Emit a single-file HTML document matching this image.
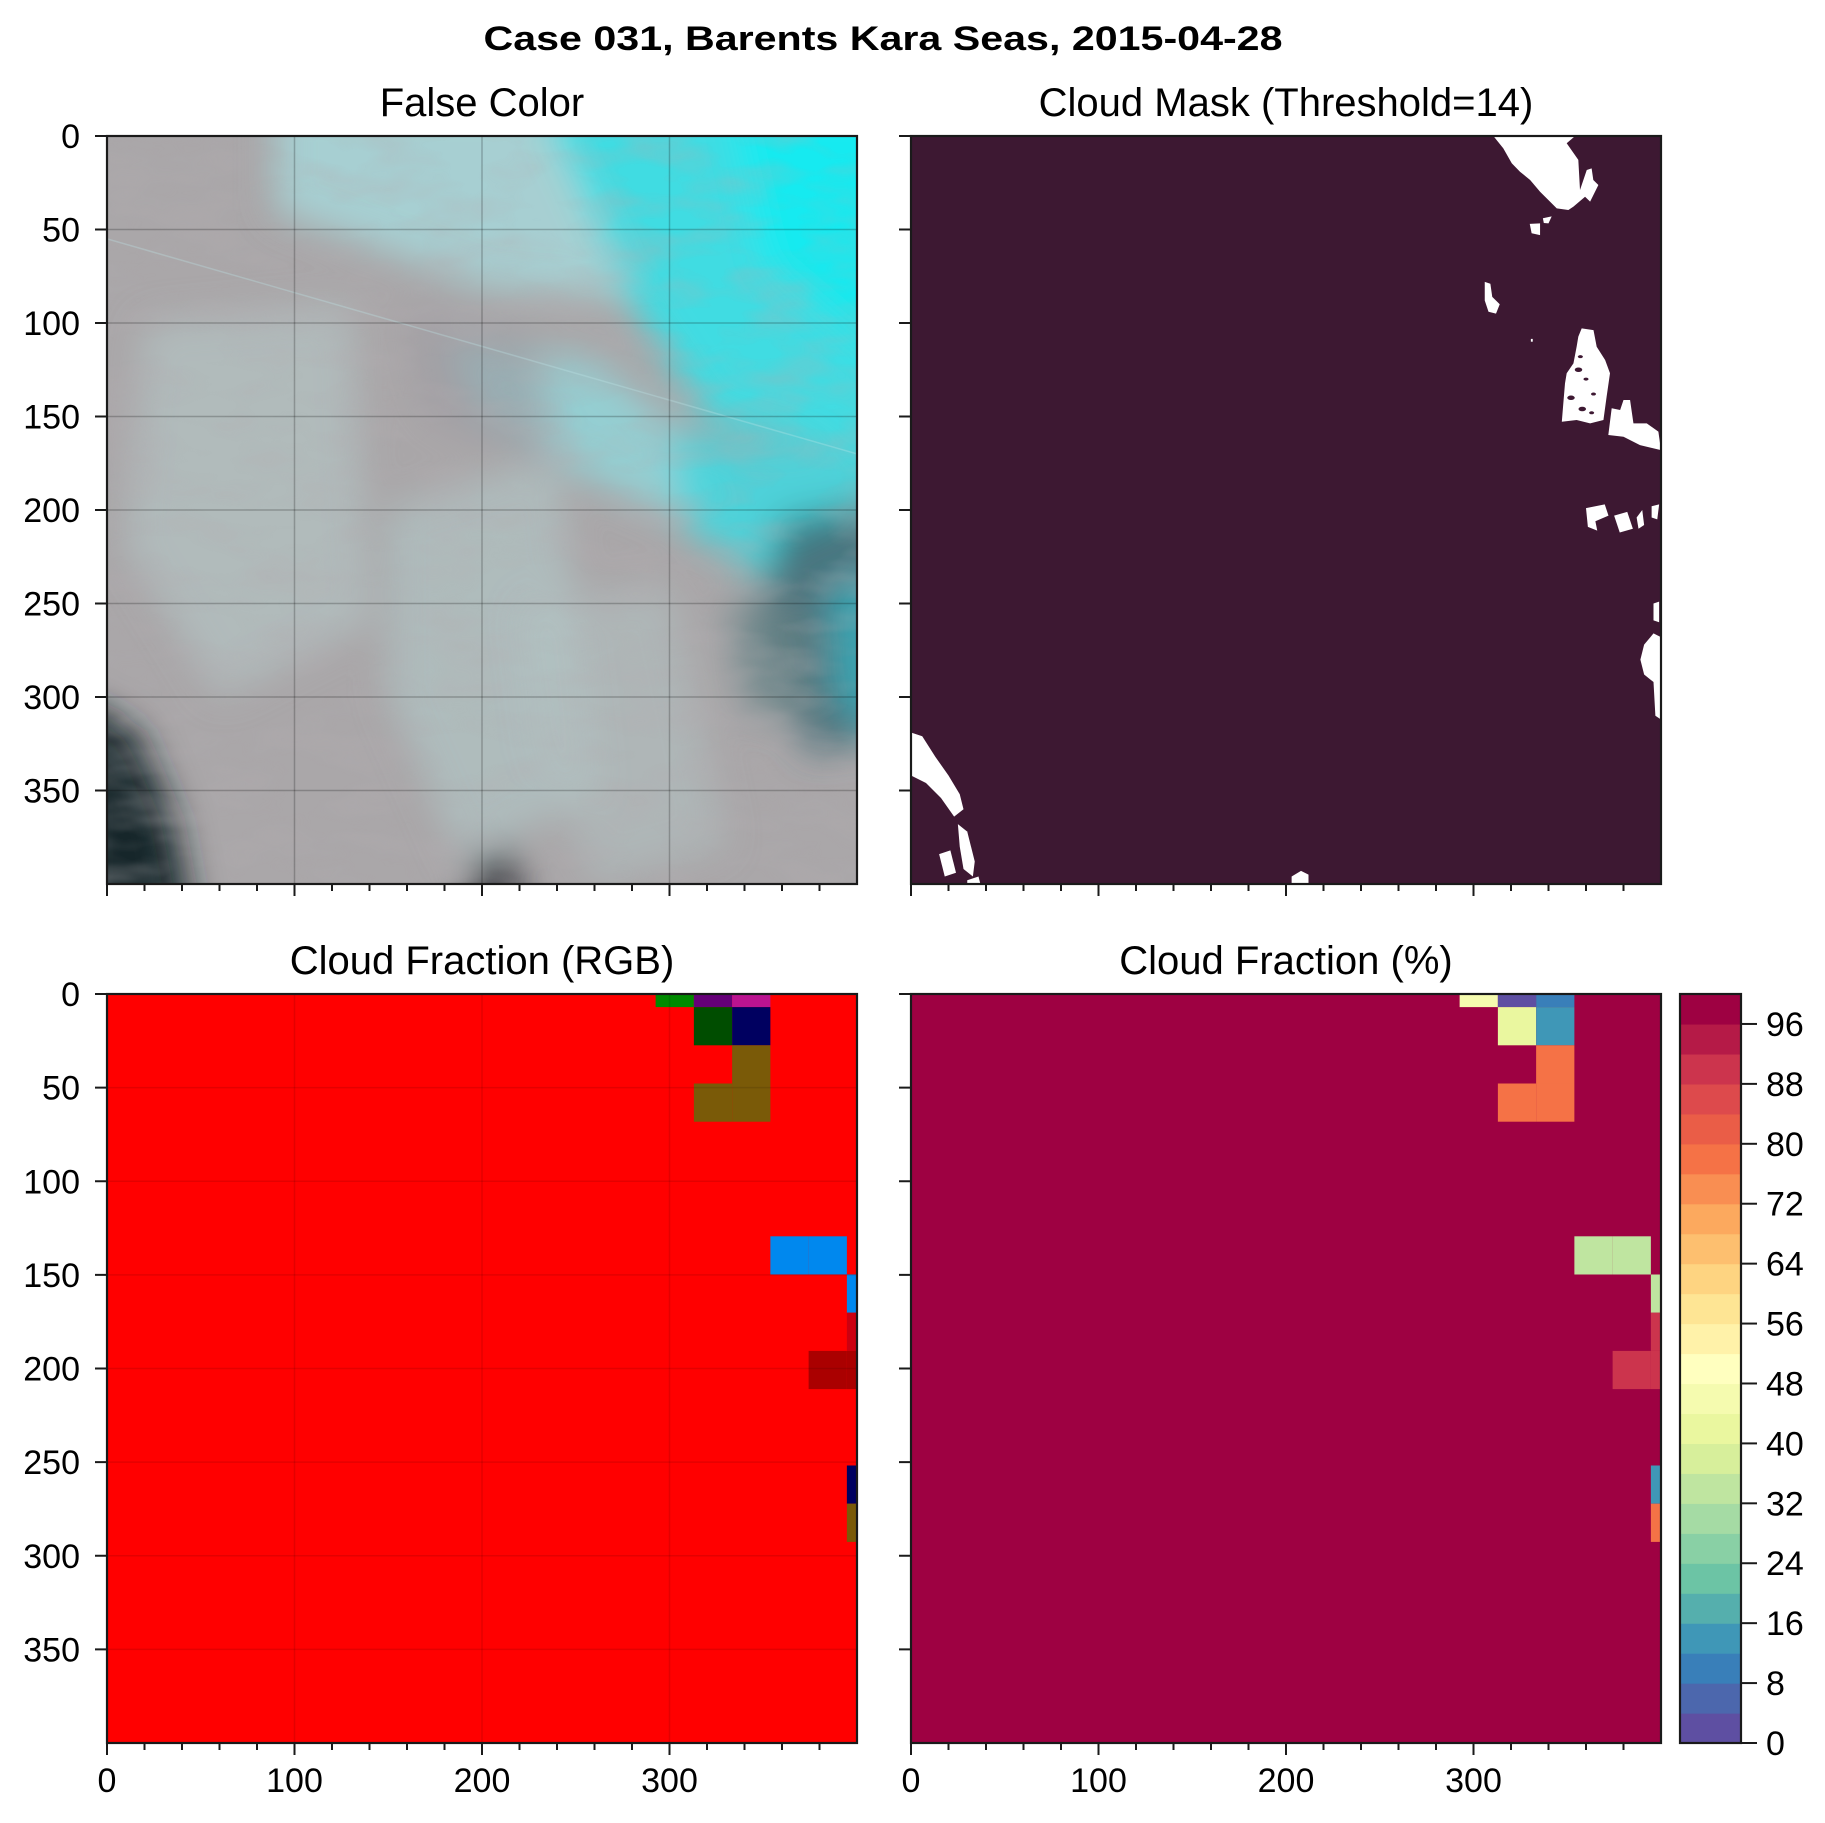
<!DOCTYPE html>
<html><head><meta charset="utf-8"><style>
html,body{margin:0;padding:0;background:#fff;}
svg{display:block;font-family:"Liberation Sans",sans-serif;}
</style></head><body>
<svg id="fig" width="1825" height="1823" viewBox="0 0 1825 1823" xmlns="http://www.w3.org/2000/svg">
<defs>
<filter id="blur8" x="-20%" y="-20%" width="140%" height="140%"><feGaussianBlur stdDeviation="18"/></filter>
<filter id="noise" x="0" y="0" width="100%" height="100%">
<feTurbulence type="fractalNoise" baseFrequency="0.012 0.03" numOctaves="3" seed="4"/>
<feColorMatrix type="matrix" values="0 0 0 0 0.45  0 0 0 0 0.42  0 0 0 0 0.44  0 0 0 1.4 -0.55"/>
</filter>
</defs>
<text x="883" y="50" font-size="34" font-weight="bold" text-anchor="middle" textLength="799" lengthAdjust="spacingAndGlyphs">Case 031, Barents Kara Seas, 2015-04-28</text>
<g id="panels"></g>
</svg>
<script>
// ---- data ----
var maskThreshold = 14;
var gridStart = -13.4, cellSize = 20.4;
var rgbRows = [0,0,0,1,1,2,3,3,7,7,8,9,10,10,13,14];
var rgbCols = [15,16,17,16,17,17,16,17,18,19,20,20,19,20,20,20];
var rgbColors = ['#008a00','#650078','#bb1390','#004d00','#000060','#7a5a08','#7a5a08','#7a5a08','#0088ee','#0088ee','#0088ee','#cc0010','#aa0000','#aa0000','#000060','#7a5a08'];
var pctBackground = 98;
var pctRows = [0,0,0,1,1,2,3,3,7,7,8,9,10,10,13,14];
var pctCols = [15,16,17,16,17,17,16,17,18,19,20,20,19,20,20,20];
var pctValues = [46,2,10,42,14,78,78,78,34,34,34,90,90,90,14,78];
var cbTicks = [0,8,16,24,32,40,48,56,64,72,80,88,96];
var yTicks = [0,50,100,150,200,250,300,350];
var xTicks = [0,100,200,300];
var maskBlobs = [
 [[310.6,0],[354.2,0],[349.7,3.9],[355.9,12.8],[356.8,28.9],[360.4,18.2],[363,17.3],[363.9,23.5],[366.6,26.2],[362.2,35.1],[359.5,32.5],[353.3,37.8],[350.6,39.6],[344.4,38.7],[340.8,35.1],[335.5,29.8],[330.2,23.5],[324.8,19.1],[320.4,14.6],[315.9,6.6]],
 [[330,47],[335.5,46.7],[335.5,53],[331,52]],
 [[337,44],[341.7,43],[340,46.7],[337.5,46.5]],
 [[306,78],[309,79],[310,86],[314,90],[312,95],[308,94],[306,88]],
 [[330.6,108.5],[331.6,108.5],[331.6,110],[330.6,110]],
 [[357.7,102.9],[364,103.8],[365.7,112.7],[370.2,119.8],[372.8,126.9],[371,139.4],[369.3,151.9],[362.2,153.7],[355,151.9],[347.1,152.8],[347.9,143],[348.8,132.3],[349.7,126.9],[353.3,121.6],[355,112.7],[355.9,107.3]],
 [[373.7,145.6],[378.2,146.5],[380,141.2],[383.5,141.2],[385.3,153.7],[392.4,153.7],[398.6,158.1],[400,168],[388.8,165.3],[380,160.8],[371.9,159.9]],
 [[360,199],[370,197],[372,203],[365,206],[366,211],[361,209]],
 [[375,203],[382,201],[385,210],[378,212]],
 [[387,204],[390,200],[391,208],[388,210]],
 [[395,198],[399,197],[398,205],[395,204]],
 [[396,250],[399,249],[399,260],[396,259]],
 [[391,272],[396,266],[400,268],[400,312],[397,310],[396,292],[391,288],[389,280]],
 [[0,319],[6,321],[13,332],[20,342],[26,352],[28,360],[23,364],[16,354],[8,346],[0,342]],
 [[25,368],[30,372],[34,388],[33,396],[28,392],[26,380]],
 [[15,384],[21,382],[24,394],[18,396]],
 [[30,398],[36,396],[37,400],[30,400]],
 [[203,396],[208,393],[212,395],[212,400],[203,400]]
];
var maskHoles = [[356,125,1.5],[360,130,1],[352,140,1.5],[358,146,1.5],[364,138,1],[363,148,1],[357,118,1]];

// ---- helpers ----
var NS='http://www.w3.org/2000/svg';
var root=document.getElementById('panels');
function mk(tag,attrs,parent){var e=document.createElementNS(NS,tag);for(var k in attrs)e.setAttribute(k,attrs[k]);(parent||root).appendChild(e);return e;}
function hex(c){return [parseInt(c.substr(1,2),16),parseInt(c.substr(3,2),16),parseInt(c.substr(5,2),16)];}
var spectral=['#5e4fa2','#3288bd','#66c2a5','#abdda4','#e6f598','#ffffbf','#fee08b','#fdae61','#f46d43','#d53e4f','#9e0142'];
function specAt(t){t=Math.max(0,Math.min(1,t));var p=t*10,i=Math.min(9,Math.floor(p)),f=p-i;var a=hex(spectral[i]),b=hex(spectral[i+1]);
 return 'rgb('+a.map(function(v,j){return Math.round(v+(b[j]-v)*f);}).join(',')+')';}
function bandColor(v){var b=Math.min(24,Math.floor(v/4));return specAt(b/24);}
function cellEdges(i){return [Math.max(0,gridStart+cellSize*i),Math.min(400,gridStart+cellSize*(i+1))];}

var panels=[
 {name:'false-color',x0:107,y0:136,title:'False Color',tx:482,ty:116,xl:false},
 {name:'cloud-mask',x0:911,y0:136,title:'Cloud Mask (Threshold='+maskThreshold+')',tx:1286,ty:116,xl:false},
 {name:'cloud-fraction-rgb',x0:107,y0:994,title:'Cloud Fraction (RGB)',tx:482,ty:974,xl:true},
 {name:'cloud-fraction-pct',x0:911,y0:994,title:'Cloud Fraction (%)',tx:1286,ty:974,xl:true}
];
var W=750;
panels.forEach(function(p,pi){
 var g=mk('g',{});
 
 
 var h=pi>=2?749:748;
 var sx=function(u){return p.x0+u*W/400;}, sy=function(u){return p.y0+u*h/400;};
 var cid='clip'+pi;
 var cp=mk('clipPath',{id:cid},g);mk('rect',{x:p.x0,y:p.y0,width:W,height:h},cp);
 var body=mk('g',{'clip-path':'url(#'+cid+')'},g);
 
 
 if(pi===0){
  mk('rect',{x:p.x0,y:p.y0,width:W,height:h,fill:'#aaa7a9'},body);
  var bl=mk('g',{filter:'url(#blur8)'},body);
  var poly=function(pts,fill,op){mk('polygon',{points:pts.map(function(q){return sx(q[0])+','+sy(q[1]);}).join(' '),fill:fill,opacity:op||1},bl);};
  poly([[90,-20],[330,-20],[320,90],[200,80],[90,40]],'#a6d4d6',0.9);
  poly([[230,-20],[420,-20],[420,175],[320,150],[280,90]],'#40dce2',1);
  poly([[330,-20],[420,-20],[420,130],[350,70]],'#12eaf0',1);
  poly([[180,110],[260,120],[320,170],[330,215],[270,190],[200,150]],'#8fd8dc',0.8);
  poly([[300,160],[420,170],[420,200],[350,235],[310,210]],'#44d6de',0.9);
  poly([[20,100],[130,90],[140,260],[60,300],[10,220]],'#b6c8c8',0.6);
  poly([[150,200],[240,170],[260,350],[190,390],[150,300]],'#b2caca',0.6);
  poly([[220,250],[300,240],[330,380],[260,400],[230,330]],'#b4c6c6',0.5);
  poly([[360,205],[420,195],[420,320],[375,330],[345,265]],'#3d6a74',0.85);
  poly([[330,250],[370,250],[380,310],[340,310]],'#6a8488',0.7);
  poly([[385,240],[420,230],[420,330],[388,300]],'#38b0be',0.8);
  poly([[-20,300],[15,318],[35,365],[45,420],[-20,420]],'#17252a',1);
  poly([[195,385],[215,380],[225,420],[195,420]],'#34343c',0.9);
  poly([[160,90],[230,110],[240,180],[170,150]],'#9c9aa0',0.6);
  mk('rect',{x:p.x0,y:p.y0,width:W,height:h,filter:'url(#noise)',opacity:0.5},body);
  mk('line',{x1:sx(0),y1:sy(55),x2:sx(400),y2:sy(170),stroke:'#bfe8ea',"stroke-width":1.5,opacity:0.3},body);
 } else if(pi===1){
  mk('rect',{x:p.x0,y:p.y0,width:W,height:h,fill:'#3d1832'},body);
  maskBlobs.forEach(function(b,bi){
   var e=mk('polygon',{points:b.map(function(q){return sx(q[0])+','+sy(q[1]);}).join(' '),fill:'#ffffff'},body);
   
   
  });
  maskHoles.forEach(function(q){mk('ellipse',{cx:sx(q[0]),cy:sy(q[1]),rx:q[2]*2.5,ry:q[2]*1.5,fill:'#3d1832'},body);});
 } else if(pi===2){
  mk('rect',{x:p.x0,y:p.y0,width:W,height:h,fill:'#ff0000'},body);
  rgbRows.forEach(function(r,i){
   var ye=cellEdges(r),xe=cellEdges(rgbCols[i]);
   var e=mk('rect',{x:sx(xe[0]),y:sy(ye[0]),width:sx(xe[1])-sx(xe[0]),height:sy(ye[1])-sy(ye[0]),fill:rgbColors[i]},body);
   
   
  });
 } else {
  mk('rect',{x:p.x0,y:p.y0,width:W,height:h,fill:bandColor(pctBackground)},body);
  pctRows.forEach(function(r,i){
   var ye=cellEdges(r),xe=cellEdges(pctCols[i]);
   var e=mk('rect',{x:sx(xe[0]),y:sy(ye[0]),width:sx(xe[1])-sx(xe[0]),height:sy(ye[1])-sy(ye[0]),fill:bandColor(pctValues[i])},body);
   
   
  });
 }
 if(pi===0||pi===2){
  var op=pi===0?0.22:0.1;
  xTicks.forEach(function(t){if(t>0)mk('line',{x1:sx(t),y1:p.y0,x2:sx(t),y2:p.y0+h,stroke:'#000','stroke-width':1.5,opacity:op},body);});
  yTicks.forEach(function(t){if(t>0)mk('line',{x1:p.x0,y1:sy(t),x2:p.x0+W,y2:sy(t),stroke:'#000','stroke-width':1.5,opacity:op},body);});
 }
 mk('rect',{x:p.x0,y:p.y0,width:W,height:h,fill:'none',stroke:'#1a1a1a','stroke-width':2.2},g);
 yTicks.forEach(function(t){
  mk('line',{x1:p.x0-12,y1:sy(t),x2:p.x0,y2:sy(t),stroke:'#1a1a1a','stroke-width':2},g);
  if(pi%2===0){var tx=mk('text',{x:p.x0-27,y:sy(t)+12,'font-size':34,'text-anchor':'end'},g);tx.textContent=t;
   
   }
 });
 for(var m=0;m<400;m+=20){var major=m%100===0;mk('line',{x1:sx(m),y1:p.y0+h,x2:sx(m),y2:p.y0+h+(major?12:7),stroke:'#1a1a1a','stroke-width':2},g);}
 if(p.xl){xTicks.forEach(function(t){var tx=mk('text',{x:sx(t),y:p.y0+h+49,'font-size':34,'text-anchor':'middle'},g);tx.textContent=t;
  
  });}
 var tt=mk('text',{x:p.tx,y:p.ty,'font-size':40,'text-anchor':'middle'},g);tt.textContent=p.title;
 
 
});
var cb=mk('g',{});


var cx0=1680,cx1=1741,cy0=994,cy1=1743;
function cby(v){return cy1-(v/100)*(cy1-cy0);}
for(var b=0;b<25;b++){mk('rect',{x:cx0,y:cby((b+1)*4),width:cx1-cx0,height:cby(b*4)-cby((b+1)*4)+0.6,fill:specAt(b/24)},cb);}
mk('rect',{x:cx0,y:cy0,width:cx1-cx0,height:cy1-cy0,fill:'none',stroke:'#1a1a1a','stroke-width':2.2},cb);
cbTicks.forEach(function(t){
 mk('line',{x1:cx1,y1:cby(t),x2:cx1+16,y2:cby(t),stroke:'#1a1a1a','stroke-width':2},cb);
 var tx=mk('text',{x:cx1+25,y:cby(t)+12,'font-size':34},cb);tx.textContent=t;
 
 
});
</script>
</body></html>
